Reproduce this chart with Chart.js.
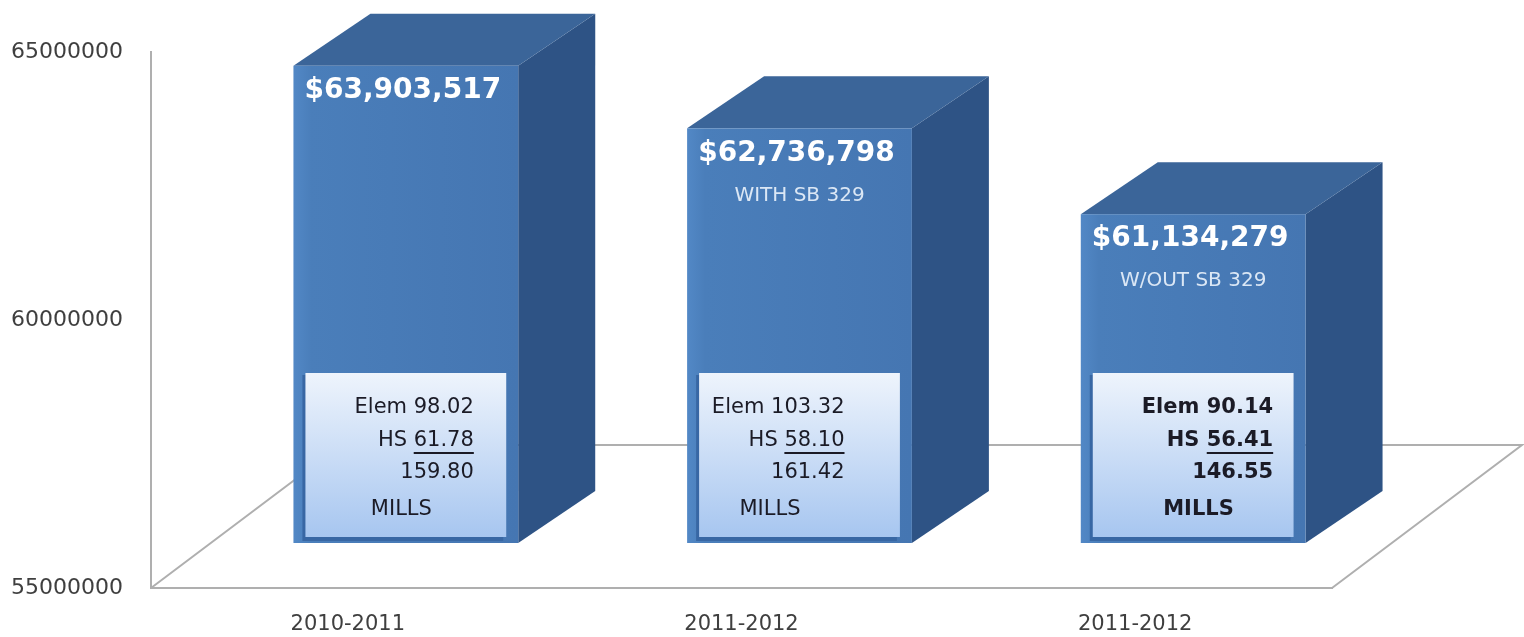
<!DOCTYPE html>
<html>
<head>
<meta charset="utf-8">
<script src="https://cdn.jsdelivr.net/npm/chart.js@4.4.1/dist/chart.umd.min.js"></script>
<style>
    html, body { margin: 0; padding: 0; background: #fff; }
    #wrap { width: 1524px; height: 637px; position: relative; }
</style>
</head>
<body>
<div id="wrap"><canvas id="chart-budget"></canvas></div>
<script>
// data
const years = ['2010-2011', '2011-2012', '2011-2012'];
const budgets = [63903517, 62736798, 61134279];
const budgetLabels = ['$63,903,517', '$62,736,798', '$61,134,279'];
const notes = ['', 'WITH SB 329', 'W/OUT SB 329'];
const elemMills = ['98.02', '103.32', '90.14'];
const hsMills = ['61.78', '58.10', '56.41'];
const totalMills = ['159.80', '161.42', '146.55'];
const yMin = 55000000;
const yMax = 65000000;
const yStep = 5000000;

// fake 3d look
const FONT = '"DejaVu Sans", "Open Sans", sans-serif';
const SHIFT = { x: 58, y: -45 };     // bar front plane vs. axis plane
const DEPTH = { x: 77, y: -52 };     // bar depth
const FLOOR = { x: 190, y: -143 };   // floor depth
const textRight = [68, 45, 80];
const millsLeft = [-35, -60, -30];

const box3d = {
    id: 'box3d',
    beforeDatasetsDraw(chart) {
        const { ctx, chartArea: a } = chart;
        ctx.save();
        ctx.strokeStyle = '#afafaf';
        ctx.lineWidth = 2;
        ctx.beginPath();
        ctx.moveTo(a.left, a.bottom);
        ctx.lineTo(a.left + FLOOR.x, a.bottom + FLOOR.y);
        ctx.lineTo(a.right + FLOOR.x, a.bottom + FLOOR.y);
        ctx.lineTo(a.right, a.bottom);
        ctx.stroke();
        ctx.restore();
    },
    afterDatasetsDraw(chart) {
        const { ctx } = chart;
        const meta = chart.getDatasetMeta(0);
        meta.data.forEach((bar, i) => {
            const x0 = bar.x - bar.width / 2 + SHIFT.x;
            const x1 = bar.x + bar.width / 2 + SHIFT.x;
            const y0 = bar.y + SHIFT.y;
            const y1 = Math.min(bar.base, chart.chartArea.bottom) + SHIFT.y;
            const cx = (x0 + x1) / 2;
            ctx.save();

            // side
            ctx.fillStyle = '#2e5385';
            ctx.beginPath();
            ctx.moveTo(x1, y0);
            ctx.lineTo(x1 + DEPTH.x, y0 + DEPTH.y);
            ctx.lineTo(x1 + DEPTH.x, y1 + DEPTH.y);
            ctx.lineTo(x1, y1);
            ctx.closePath();
            ctx.fill();

            // top
            ctx.fillStyle = '#3b6599';
            ctx.beginPath();
            ctx.moveTo(x0, y0);
            ctx.lineTo(x0 + DEPTH.x, y0 + DEPTH.y);
            ctx.lineTo(x1 + DEPTH.x, y0 + DEPTH.y);
            ctx.lineTo(x1, y0);
            ctx.closePath();
            ctx.fill();

            // front
            const g = ctx.createLinearGradient(x0, 0, x1, 0);
            g.addColorStop(0, '#5288c6');
            g.addColorStop(0.08, '#4a7eba');
            g.addColorStop(1, '#4576b2');
            ctx.fillStyle = g;
            ctx.fillRect(x0, y0, x1 - x0, y1 - y0);

            // money label
            ctx.fillStyle = '#ffffff';
            ctx.textAlign = 'center';
            ctx.textBaseline = 'middle';
            ctx.font = 'bold 28px ' + FONT;
            ctx.fillText(budgetLabels[i], cx - 3, y0 + 25);
            if (notes[i]) {
                ctx.fillStyle = '#dbe7f5';
                ctx.font = '20px ' + FONT;
                ctx.fillText(notes[i], cx, y0 + 67);
            }

            // mills box
            const bx0 = x0 + 12, bx1 = x1 - 12;
            const by0 = y1 - 170, by1 = y1 - 6;
            ctx.fillStyle = '#3867a4';
            ctx.fillRect(bx0 - 3, by0 + 2, bx1 - bx0, by1 - by0 + 2);
            const bg = ctx.createLinearGradient(0, by0, 0, by1);
            bg.addColorStop(0, '#eef4fc');
            bg.addColorStop(1, '#a7c6f0');
            ctx.fillStyle = bg;
            ctx.fillRect(bx0, by0, bx1 - bx0, by1 - by0);

            const weight = i === 2 ? 'bold ' : '';
            ctx.font = weight + '21px ' + FONT;
            ctx.fillStyle = '#1b1b26';
            ctx.textAlign = 'right';
            const rx = cx + textRight[i];
            ctx.fillText('Elem ' + elemMills[i], rx, by0 + 35);
            ctx.fillText('HS ' + hsMills[i], rx, by0 + 68);
            const w = ctx.measureText(hsMills[i]).width;
            ctx.fillRect(rx - w, by0 + 79, w, 2);
            ctx.fillText(totalMills[i], rx, by0 + 100);
            ctx.textAlign = 'left';
            ctx.fillText('MILLS', cx + millsLeft[i], by0 + 137);
            ctx.restore();
        });
    }
};

new Chart(document.getElementById('chart-budget'), {
    type: 'bar',
    data: {
        labels: years,
        datasets: [{
            data: budgets,
            base: yMin,
            backgroundColor: 'rgba(0,0,0,0)',
            borderWidth: 0,
            categoryPercentage: 1,
            barPercentage: 0.571,
        }]
    },
    options: {
        responsive: true,
        maintainAspectRatio: false,
        animation: false,
        events: [],
        layout: { padding: { left: 0, right: 192, top: 52, bottom: 0 } },
        plugins: { legend: { display: false }, tooltip: { enabled: false } },
        scales: {
            x: {
                grid: { display: false, drawTicks: false },
                border: { display: true, color: '#afafaf', width: 2 },
                ticks: { color: '#3f3f3f', padding: 24, font: { family: FONT, size: 21 } },
                afterFit: s => { s.height = 49; }
            },
            y: {
                min: yMin,
                max: yMax,
                grid: { display: false, drawTicks: false },
                border: { display: true, color: '#afafaf', width: 2 },
                ticks: {
                    stepSize: yStep,
                    color: '#3f3f3f',
                    padding: 28,
                    font: { family: FONT, size: 22 },
                    callback: v => String(v)
                },
                afterFit: s => { s.width = 151; }
            }
        }
    },
    plugins: [box3d]
});
</script>
</body>
</html>
